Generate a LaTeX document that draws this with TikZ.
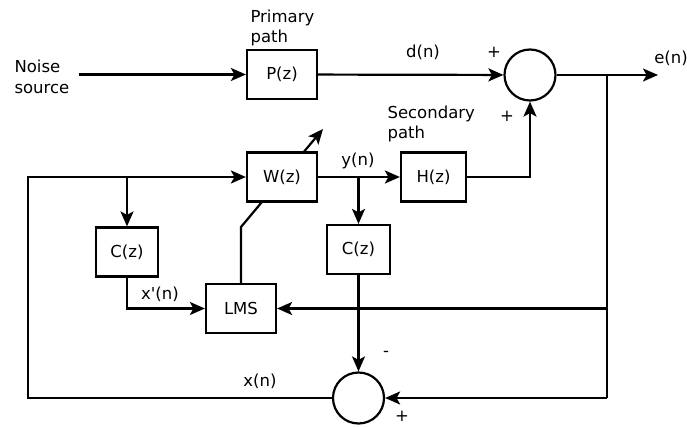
\documentclass[tikz,border=0pt]{standalone}
\usepackage{fontspec}
\setmainfont{DejaVu Sans}
\usetikzlibrary{positioning,arrows.meta,backgrounds}

\begin{document}
\begin{tikzpicture}[x=1pt,y=-1pt,on grid,
    every node/.style={font=\fontsize{16.5}{20.5}\selectfont},
    block/.style={draw,line width=2.2pt,fill=white,minimum width=70pt,minimum height=49pt,inner sep=0pt},
    sumnode/.style={draw,circle,line width=2.2pt,minimum size=51pt,inner sep=0pt},
    wire/.style={line width=2.2pt},
    sig/.style={wire,-{Stealth[length=15pt,width=13pt,inset=3.5pt]}}]
   \useasboundingbox (0,0) rectangle (687,427);

   % blocks
   \node[block] (P) at (282,74.5) {P(z)};
   \node[block] (W) [below=102.5pt of P] {W(z)};
   \node[block,minimum width=65pt] (H) [right=151.5pt of W] {H(z)};
   \node[sumnode] (S1) at (530,75) {};
   \node[block,minimum width=63pt] (C2) at (358.5,249.5) {C(z)};
   \node[block,minimum width=62pt] (C1) at (127,252) {C(z)};
   \node[block] (L) at (241,308.5) {LMS};
   \node[sumnode] (S2) at (358.5,398) {};

   % labels
   \node[align=left,anchor=west] (noise) at (11,77) {Noise\\source};
   \node[align=left,anchor=west] (prim) at (247,28) {Primary\\path};
   \node[align=left,anchor=west] (sec) at (384,124) {Secondary\\path};
   \node (dn) at (423,52) {d(n)};
   \node (en) at (671,58) {e(n)};
   \node (yn) at (358,161) {y(n)};
   \node (xpn) at (160,294) {x\textquotesingle(n)};
   \node (xn) at (260,381) {x(n)};
   \node (p1) at (494,52) {+};
   \node (p2) at (507,116) {+};
   \node (m1) at (386,354) {-};
   \node (p3) at (402,416) {+};

   \coordinate (eo) at (658,75);
   \coordinate (jr) at (607,75);
   \coordinate (jb) at (607,398);
   \coordinate (ll) at (28,398);
   \coordinate (a1) at (241,227);
   \coordinate (a2) at (323,129);

   % connectors
   \draw[sig,shorten <=6pt] (noise.east |- P) -- (P);
   \draw[sig] (P) -- (S1);
   \draw[sig] (S1) -- (eo);
   \draw[wire] (jr) -- (jb);
   \draw[sig] (jb) -- (S2);
   \draw[sig] (jr |- L) -- (L);
   \draw[sig] (W) -- (H);
   \draw[sig] (H) -| (S1);
   \draw[sig] (C2 |- W) -- (C2);
   \draw[sig] (C2) -- (S2);
   \draw[sig] (S2) -- (ll) |- (W);
   \draw[sig] (C1 |- W) -- (C1);
   \draw[sig] (C1) |- (L);
   \begin{scope}[on background layer]
     \draw[sig] (L) -- (a1) -- (a2);
   \end{scope}
\end{tikzpicture}
\end{document}
